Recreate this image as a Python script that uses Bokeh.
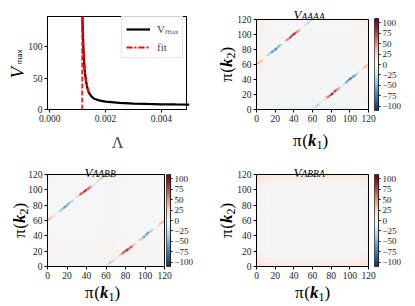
import numpy as np
from math import pi
from bokeh.plotting import figure
from bokeh.layouts import column, row
from bokeh.models import (Label, Legend, LegendItem, LinearColorMapper, LinearAxis,
                          FixedTicker, PrintfTickFormatter, CustomJSTickFormatter, Range1d,
                          BoxAnnotation)
from bokeh.embed import file_html
from bokeh.resources import INLINE

# ---------------- data: V_max vs Lambda ----------------
lam = [0.00117, 0.00118, 0.00120, 0.00122, 0.00125, 0.00130, 0.00135, 0.00140, 0.00150,
       0.00160, 0.00180, 0.00200, 0.00250, 0.00300, 0.00350, 0.00400, 0.00450, 0.00500]
vmax = [148, 132, 105, 84, 63, 45, 34, 27, 20.5, 17, 14, 12.5, 10.5, 9.5, 8.8, 8.3, 8.0, 7.8]
lam_fit = [0.001172, 0.00118, 0.00120, 0.00122, 0.00125, 0.00130, 0.00135, 0.00140]
v_fit = [148, 134, 104, 83, 63, 45, 34, 27]
lam_c = 0.00116
lam_lim = (-0.00008, 0.0049)
v_lim = (0, 148)
x_ticks_tl = [0.0, 0.002, 0.004]
y_ticks_tl = [0, 50, 100]

# ---------------- data: V matrices (k1, k2 grid 0..120) ----------------
N = 120
# stripe values along k2 = k1 + 60 (k1 = 0, 2, ..., 58)
AAAA_upper = [45, 40, 30, 15, 0, -18, -35, -52, -65, -72, -72, -65, -48, -22, 5,
              35, 60, 78, 90, 95, 88, 68, 45, 20, 0, -15, -28, -35, -30, -18]
# stripe values along k2 = k1 - 60 (k1 = 60, 62, ..., 118)
AAAA_lower = [-18, -30, -35, -28, -15, 0, 20, 45, 68, 88, 95, 90, 78, 60, 35,
              5, -22, -48, -65, -75, -78, -72, -58, -38, -18, 0, 15, 30, 40, 45]
AABB_upper = [45, 40, 25, 10, -5, -20, -35, -50, -60, -65, -60, -50, -35, -15, 5,
              30, 55, 75, 85, 90, 80, 60, 35, 15, -5, -20, -30, -35, -30, -15]
AABB_lower = [-15, -30, -35, -30, -20, -5, 15, 35, 60, 80, 90, 85, 75, 55, 30,
              5, -15, -35, -50, -60, -65, -60, -50, -35, -20, -5, 10, 25, 40, 45]
ABBA_upper = [0] * 30
ABBA_lower = [0] * 30
# faint background profiles (5-unit bins along k1 and k2)
AAAA_bg_k1 = [7, 5, 3, 1, 0, 0, 0, 0, 0, 0, 0, 0, 0, 0, 0, 0, 0, 0, 0, 0, 1, 3, 5, 7]
AAAA_bg_k2 = [-6, -3, -2, -2, -2, -2, -2, -2, -2, -2, -2, -2, -2, -2, -2, -2, -2, -2, -2, -2, -2, -1, -1, 0]
AABB_bg_k1 = [1, 0, 0, 0, 0, 0, 0, 0, 0, 0, 1, 1, 2, 2, 1, 1, 0, 0, 0, 0, 0, 0, 0, 1]
AABB_bg_k2 = [0, 1, 1, 2, 2, 1, 1, 0, 0, 0, -1, -1, -1, -1, -1, -1, -1, -1, -1, -1, -1, 0, 0, 1]
ABBA_bg_k1 = [6, 3, 1, 0, 0, 0, 0, 0, 0, 0, 0, 0, 0, 0, 0, 0, 0, 0, 0, 0, 0, 1, 3, 6]
ABBA_bg_k2 = [8, 4, 1, -2, -2, -2, -2, -2, -2, -2, -2, -2, -2, -2, -2, -2, -2, -2, -2, -2, -1, 1, 4, 8]
k_lim = (0, 120)
heat_ticks = [0, 20, 40, 60, 80, 100, 120]
cbar_ticks = [-100, -75, -50, -25, 0, 25, 50, 75, 100]
v_low, v_high = -110, 110

RdBu_r = ['#053061', '#2166ac', '#4393c3', '#92c5de', '#d1e5f0', '#f7f7f7',
          '#fddbc7', '#f4a582', '#d6604d', '#b2182b', '#67001f']


def make_palette(anchors, n=256):
    rgb = np.array([[int(c[i:i + 2], 16) for i in (1, 3, 5)] for c in anchors], float)
    t = np.linspace(0, 1, len(anchors))
    tt = np.linspace(0, 1, n)
    out = np.stack([np.interp(tt, t, rgb[:, j]) for j in range(3)], axis=1)
    return ['#%02x%02x%02x' % tuple(int(round(v)) for v in c) for c in out]


palette = make_palette(RdBu_r)
mapper = LinearColorMapper(palette=palette, low=v_low, high=v_high)

SERIF = 'Liberation Serif'
TICK_FS = '9.5px'


def build_matrix(upper, lower, bg_k1, bg_k2):
    arr = np.add.outer(np.repeat(bg_k2, 5), np.repeat(bg_k1, 5)).astype(float)
    for k1 in range(60):
        v = upper[k1 // 2]
        for d in (-1, 0, 1):
            if 0 <= k1 + d < N:
                arr[60 + k1, k1 + d] = v
    for k1 in range(60, 120):
        v = lower[(k1 - 60) // 2]
        for d in (-1, 0, 1):
            if 0 <= k1 + d < N:
                arr[k1 - 60, k1 + d] = v
    return arr


def lin_range(d0, d1, p0, p1, total):
    """Range whose values d0, d1 fall on canvas pixels p0, p1 (canvas size total)."""
    k = (d1 - d0) / float(p1 - p0)
    start = d0 - p0 * k
    return Range1d(start, start + total * k)


def px_to_data(rng, px, total):
    return rng.start + (rng.end - rng.start) * px / float(total)


def style_axis(ax):
    ax.axis_line_color = 'black'
    ax.major_tick_line_color = 'black'
    ax.major_tick_out = 3
    ax.major_tick_in = 0
    ax.minor_tick_line_color = None
    ax.major_label_text_font = SERIF
    ax.major_label_text_font_size = TICK_FS
    ax.major_label_text_color = '#222222'
    ax.major_label_standoff = 2


def compose(p, x, y, pieces, vertical=False):
    pos = 0.0
    for text, size, style, adv, drop, font in pieces:
        if vertical:
            lx, ly, ang = x + drop, y + pos, pi / 2
        else:
            lx, ly, ang = x + pos, y - drop, 0
        p.add_layout(Label(x=lx, y=ly, x_units='screen', y_units='screen', text=text,
                           angle=ang, text_font=font, text_font_size='%gpx' % size,
                           text_font_style=style, text_color='black',
                           text_align='left', text_baseline='alphabetic'))
        pos += adv


def k_pieces(n, s=17):
    sub = round(s * 0.7)
    return [('π', s, 'normal', 0.55 * s, 0, SERIF), ('(', s, 'normal', 0.333 * s, 0, SERIF),
            ('k', s, 'bold italic', 0.5 * s, 0, SERIF), (n, sub, 'normal', 0.5 * sub, 4, SERIF),
            (')', s, 'normal', 0.333 * s, 0, SERIF)]


def k_width(s=17):
    return sum(pc[3] for pc in k_pieces('1', s))


def title_pieces(sub):
    return [('V', 13, 'italic', 8, 0, SERIF), (sub, 9.5, 'italic', 23.2, 2, SERIF)]


def base_fig(w, h, xr, yr):
    p = figure(width=w, height=h, min_border=0, x_range=xr, y_range=yr,
               output_backend='svg', toolbar_location=None)
    p.xgrid.visible = False
    p.ygrid.visible = False
    p.outline_line_color = None
    style_axis(p.xaxis[0])
    style_axis(p.yaxis[0])
    return p


# ---------------- top-left: V_max vs Lambda ----------------
W_TL, H_TL = 208, 150
xr = lin_range(lam_lim[0], lam_lim[1], 47, 186, W_TL)
yr = lin_range(v_lim[0], v_lim[1], 41, 134, H_TL)
tl = base_fig(W_TL, H_TL, xr, yr)
tl.xaxis.fixed_location = v_lim[0]
tl.yaxis.fixed_location = lam_lim[0]
tl.xaxis.bounds = lam_lim
tl.yaxis.bounds = v_lim
tl.xaxis.ticker = FixedTicker(ticks=x_ticks_tl)
tl.xaxis.formatter = PrintfTickFormatter(format='%.3f')
tl.yaxis.ticker = FixedTicker(ticks=y_ticks_tl)
tl.add_layout(BoxAnnotation(left=lam_lim[0], right=lam_lim[1], bottom=v_lim[0], top=v_lim[1],
                            fill_color=None, line_color='black', line_width=1, line_alpha=1))
r1 = tl.line(lam, vmax, line_color='black', line_width=2.2)
r2 = tl.line(lam_fit, v_fit, line_color='red', line_width=2, line_dash='6 2 2 2')
tl.segment(x0=[lam_c], y0=[v_lim[0]], x1=[lam_c], y1=[v_lim[1]], line_color='red',
           line_width=1.5, line_dash='5 2')
leg = Legend(items=[LegendItem(label='Vₘₐₓ', renderers=[r1]),
                    LegendItem(label='fit', renderers=[r2])],
             location=(121, 92), padding=4, spacing=5,
             glyph_width=24, glyph_height=12, label_height=12, label_standoff=7,
             label_text_font=SERIF, label_text_font_size='11px',
             border_line_color='#cccccc', background_fill_alpha=0.85)
tl.add_layout(leg)
compose(tl, 17, 72, [('V', 19, 'italic', 14, 0, SERIF),
                     ('max', 7, 'normal', 12, 2, 'DejaVu Sans')], vertical=True)
tl.add_layout(Label(x=117, y=8, x_units='screen', y_units='screen', text='Λ',
                    text_font=SERIF, text_font_size='16px', text_align='center',
                    text_baseline='alphabetic'))


# ---------------- heatmaps ----------------
def heat_fig(arr, sub, w, h, hx0, hx1, hy0, hy1, bx0, bx1, by0, by1, title_x, title_y,
             ylab_x, xlab_cx, xlab_y):
    xr = lin_range(k_lim[0], k_lim[1], hx0, hx1, w)
    yr = lin_range(k_lim[0], k_lim[1], hy0, hy1, h)
    p = base_fig(w, h, xr, yr)
    p.extra_y_ranges = {'cb': lin_range(v_low, v_high, by0, by1, h)}
    p.xaxis.fixed_location = k_lim[0]
    p.yaxis.fixed_location = k_lim[0]
    p.xaxis.bounds = k_lim
    p.yaxis.bounds = k_lim
    p.xaxis.ticker = FixedTicker(ticks=heat_ticks)
    p.yaxis.ticker = FixedTicker(ticks=heat_ticks)
    p.image(image=[arr], x=k_lim[0], y=k_lim[0], dw=k_lim[1] - k_lim[0],
            dh=k_lim[1] - k_lim[0], color_mapper=mapper)
    p.add_layout(BoxAnnotation(left=k_lim[0], right=k_lim[1], bottom=k_lim[0], top=k_lim[1],
                               fill_color=None, line_color='black', line_width=1,
                               line_alpha=1))
    # colour bar drawn on its own value scale
    cb_left = px_to_data(xr, bx0, w)
    cb_right = px_to_data(xr, bx1, w)
    grad = np.linspace(v_low, v_high, 256).reshape(256, 1)
    p.image(image=[grad], x=cb_left, y=v_low, dw=cb_right - cb_left, dh=v_high - v_low,
            color_mapper=mapper, y_range_name='cb')
    p.add_layout(BoxAnnotation(left=cb_left, right=cb_right, bottom=v_low, top=v_high,
                               y_range_name='cb', fill_color=None,
                               line_color='black', line_width=0.6, line_alpha=1))
    cax = LinearAxis(y_range_name='cb', bounds=(v_low, v_high), fixed_location=cb_right,
                     ticker=FixedTicker(ticks=cbar_ticks),
                     formatter=CustomJSTickFormatter(
                         code="return tick < 0 ? '\\u2212' + Math.abs(tick) : '' + tick;"))
    style_axis(cax)
    cax.major_tick_out = 2
    cax.axis_line_width = 0.6
    cax.major_label_text_font_size = '9px'
    p.add_layout(cax, 'right')
    compose(p, title_x, title_y, title_pieces(sub))
    compose(p, ylab_x, (hy0 + hy1) / 2.0 - k_width() / 2.0, k_pieces('2'), vertical=True)
    compose(p, xlab_cx - k_width() / 2.0, xlab_y, k_pieces('1'))
    return p


m_AAAA = build_matrix(AAAA_upper, AAAA_lower, AAAA_bg_k1, AAAA_bg_k2)
m_AABB = build_matrix(AABB_upper, AABB_lower, AABB_bg_k1, AABB_bg_k2)
m_ABBA = build_matrix(ABBA_upper, ABBA_lower, ABBA_bg_k1, ABBA_bg_k2)

tr = heat_fig(m_AAAA, 'AAAA', 207, 150, 48, 160, 41, 131, 166, 170, 40, 132,
              85, 136, 18, 102, 10)
bl = heat_fig(m_AABB, 'AABB', 208, 156, 47, 164, 40, 132, 166, 170, 40, 132,
              84, 134.5, 19, 102, 14)
br = heat_fig(m_ABBA, 'ABBA', 207, 156, 48, 160, 40, 132, 166, 170, 40, 132,
              85, 134.5, 18, 104, 14)

layout = column(row(tl, tr), row(bl, br))
open('out.html', 'w').write(file_html(layout, INLINE))
